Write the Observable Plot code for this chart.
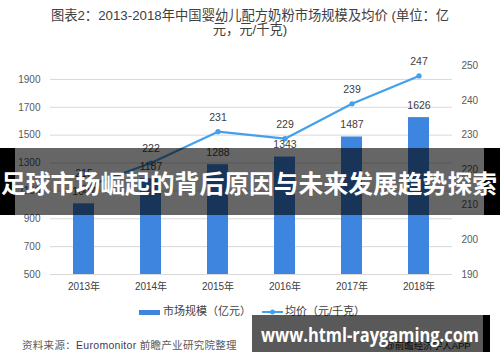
<!DOCTYPE html>
<html><head><meta charset="utf-8">
<script src="https://cdn.jsdelivr.net/npm/d3@7"></script>
<script src="https://cdn.jsdelivr.net/npm/@observablehq/plot@0.6"></script>
<style>
html,body{margin:0;padding:0;background:#fff;}
#wrap{position:relative;width:500px;height:362px;overflow:hidden;font-family:"Liberation Sans","Noto Sans CJK SC",sans-serif;}
#title{position:absolute;left:0;top:9px;width:500px;text-align:center;font-size:13.3px;line-height:14px;color:#404040;}
#chart{position:absolute;left:0;top:46px;}
.leg{position:absolute;top:304px;font-size:11px;color:#404040;line-height:14px;}
#source{position:absolute;left:22px;top:337px;font-size:10.5px;color:#595959;letter-spacing:0.3px;}
#band{position:absolute;left:0;top:148px;width:500px;height:67px;}
#band .l{position:absolute;left:0;top:0;width:15px;height:67px;background:#000;}
#band .r{position:absolute;left:484px;top:0;width:16px;height:67px;background:#000;}
#band .m{position:absolute;left:15px;top:0;width:469px;height:67px;background:rgba(0,0,0,0.6);}
#band svg{position:absolute;left:0;top:0;}
#band2{position:absolute;left:252px;top:315px;width:238px;height:37px;}
#band2 .faint{position:absolute;left:133px;top:23px;font-size:9.5px;color:#222;white-space:nowrap;}
#band2 .m{position:absolute;left:0;top:0;width:231px;height:37px;background:rgba(0,0,0,0.65);}
#band2 .r{position:absolute;left:231px;top:0;width:7px;height:37px;background:#000;}
#band2 svg{position:absolute;left:0;top:0;}
</style></head>
<body><div id="wrap">
<div id="title">图表2：2013-2018年中国婴幼儿配方奶粉市场规模及均价 (单位：亿<br>元，元/千克)</div>
<div id="chart"></div>
<div class="leg" id="leg1" style="left:139px;"><span style="display:inline-block;width:21px;height:5px;background:#3d85de;vertical-align:middle;margin-right:3px;"></span>市场规模（亿元）</div>
<div class="leg" id="leg2" style="left:262px;"><svg width="21" height="8" style="vertical-align:middle;margin-right:2px;"><line x1="0" y1="4" x2="21" y2="4" stroke="#43a0ec" stroke-width="2"/><circle cx="10.5" cy="4" r="2.5" fill="#43a0ec"/></svg>均价（元/千克）</div>
<div id="source">资料来源：<span style="color:#3b3b5c">Euromonitor</span> 前瞻产业研究院整理</div>
<div id="band"><div class="l"></div><div class="m"></div><div class="r"></div>
<svg width="500" height="67"><text x="1" y="45" textLength="496" lengthAdjust="spacingAndGlyphs" fill="#fff" font-weight="bold" font-size="25" font-family="Noto Sans CJK SC, sans-serif">足球市场崛起的背后原因与未来发展趋势探索</text></svg></div>
<div id="band2"><div class="faint">@前瞻经济学人APP</div><div class="m"></div><div class="r"></div>
<svg width="238" height="37"><text x="9" y="27" textLength="218" lengthAdjust="spacingAndGlyphs" fill="#fff" font-weight="bold" font-size="19" font-family="Open Sans, DejaVu Sans, sans-serif">www.html-raygaming.com</text></svg></div>
</div>
<script>
const years = ["2013年","2014年","2015年","2016年","2017年","2018年"];
const marketSize = [1007,1187,1288,1343,1487,1626];
const avgPrice = [215,222,231,229,239,247];
const leftTicks = [500,700,900,1100,1300,1500,1700,1900];
const rightTicks = [190,200,210,220,230,240,250];

const toLeft = d3.scaleLinear([190,250],[500,2000]);
const data = years.map((y,i)=>({year:y,size:marketSize[i],price:avgPrice[i],py:toLeft(avgPrice[i])}));

const chart = Plot.plot({
  width:500, height:250,
  marginLeft:50, marginRight:48, marginTop:19, marginBottom:22,
  style:{fontFamily:"'Liberation Sans','Noto Sans CJK SC',sans-serif",fontSize:"10px",color:"#595959",background:"transparent"},
  x:{domain:years, paddingInner:0.69, paddingOuter:0.345},
  y:{domain:[500,2000]},
  marks:[
    Plot.gridY(leftTicks,{stroke:"#d9d9d9",strokeOpacity:1}),
    Plot.barY(data,{x:"year",y1:500,y2:"size",fill:"#3d85de"}),
    Plot.axisY(leftTicks,{anchor:"left",tickSize:0,tickPadding:10,label:null,fill:"#595959",tickFormat:d=>String(d)}),
    Plot.axisY(rightTicks.map(v=>toLeft(v)),{anchor:"right",tickSize:0,tickPadding:9,label:null,fill:"#595959",tickFormat:d=>String(Math.round(toLeft.invert(d)))}),
    Plot.axisX({tickSize:0,tickPadding:8,label:null,fill:"#404040"}),
    Plot.line(data,{x:"year",y:"py",stroke:"#43a0ec",strokeWidth:2.2}),
    Plot.dot(data,{x:"year",y:"py",r:2.6,fill:"#43a0ec"}),
    Plot.text(data,{x:"year",y:"size",text:d=>String(d.size),dy:-12,fill:"#404040",fontSize:10.5}),
    Plot.text(data,{x:"year",y:"py",text:d=>String(d.price),dy:-14,fill:"#404040",fontSize:10.5})
  ]
});
document.getElementById("chart").appendChild(chart);
</script>
</body></html>
